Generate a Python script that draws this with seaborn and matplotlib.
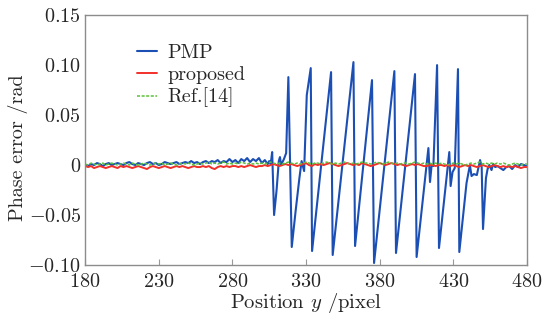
import numpy as np
import pandas as pd
import matplotlib
matplotlib.use('Agg')
import matplotlib.pyplot as plt
import seaborn as sns

# ---- data ----
# PMP: noise before the fringe region, then sawtooth vertices, then noise
pmp_x = [180, 182, 184, 186, 188, 190, 192, 194, 196, 198,
         200, 202, 204, 206, 208, 210, 212, 214, 216, 218,
         220, 222, 224, 226, 228, 230, 232, 234, 236, 238,
         240, 242, 244, 246, 248, 250, 252, 254, 256, 258,
         260, 262, 264, 266, 268, 270, 272, 274, 276, 278,
         280, 282, 284, 286, 288, 290, 292, 294, 296, 298,
         300, 302, 304,
         305, 306, 307, 308.3, 310, 311.5, 312.3, 313, 314, 315, 316.5, 318,
         320.3, 323, 325.5, 327, 328.7, 330.5, 333.2, 334.1, 347.0, 348.1,
         362.2, 363.3, 374.8, 376.2, 390.0, 391.1, 404.0, 405.1, 413.1, 414.2,
         415.3, 416.5, 419.0, 420.3, 427.3, 428.2, 429.5, 431.0, 433.2, 434.1,
         439.0, 440.7, 441.3, 442.4, 444.0, 446.0, 448.2, 449.3, 450.2, 452.2,
         453.3, 454.5, 456, 457, 458.5, 460, 462, 464, 466, 468,
         470, 472, 474, 476, 478, 480]
pmp_y = [0.000, -0.001, 0.001, 0.000, 0.002, 0.001, -0.001, 0.001, 0.002, 0.000,
         0.001, 0.002, 0.001, 0.000, 0.002, 0.003, 0.001, 0.000, 0.002, 0.001,
         0.000, 0.002, 0.003, 0.001, 0.002, 0.000, 0.001, 0.003, 0.002, 0.001,
         0.002, 0.003, 0.001, 0.002, 0.003, 0.002, 0.004, 0.002, 0.003, 0.001,
         0.003, 0.004, 0.002, 0.004, 0.003, 0.005, 0.002, 0.004, 0.003, 0.006,
         0.003, 0.005, 0.002, 0.006, 0.004, 0.007, 0.003, 0.006, 0.004, 0.007,
         0.002, 0.005, 0.001,
         0.004, 0.001, 0.013, -0.050, -0.025, 0.004, 0.008, 0.000, 0.003, 0.006, 0.012, 0.088,
         -0.082, -0.045, -0.013, 0.004, -0.006, 0.070, 0.097, -0.086, 0.093, -0.090,
         0.103, -0.081, 0.085, -0.098, 0.094, -0.088, 0.091, -0.092, 0.017, -0.017,
         0.000, -0.001, 0.100, -0.083, 0.013, -0.021, -0.007, -0.003, 0.096, -0.087,
         -0.018, -0.005, 0.000, -0.011, -0.009, -0.010, 0.005, -0.002, -0.064, -0.013,
         -0.004, 0.000, -0.005, 0.001, -0.002, -0.001, -0.003, -0.005, -0.002, -0.001,
         -0.004, 0.000, -0.002, 0.001, 0.000, -0.001]

noise_x = list(range(180, 481, 2))
proposed_y = [-0.001, -0.002, -0.001, -0.003, -0.002, -0.001, -0.002, -0.003, -0.002, -0.001,
              -0.002, -0.003, -0.001, -0.002, -0.001, -0.002, -0.003, -0.002, -0.001, -0.002,
              -0.003, -0.004, -0.002, -0.001, -0.002, -0.003, -0.002, -0.001, -0.002, -0.003,
              -0.002, -0.001, -0.002, -0.001, -0.002, -0.003, -0.002, -0.001, -0.002, -0.002,
              -0.001, -0.002, -0.001, -0.003, -0.004, -0.002, -0.001, -0.002, -0.001, -0.002,
              -0.001, -0.001, -0.002, -0.001, -0.002, -0.001, 0.000, -0.001, -0.002, -0.001,
              -0.001, 0.000, -0.001, 0.000, 0.001, 0.000, -0.001, 0.000, 0.001, 0.000,
              0.001, 0.000, -0.001, 0.000, 0.001, 0.002, 0.000, -0.001, 0.001, 0.000,
              0.001, 0.000, 0.001, 0.002, 0.001, 0.000, -0.001, 0.000, 0.001, 0.002,
              0.001, 0.000, 0.001, 0.000, 0.002, 0.001, 0.000, -0.001, 0.000, 0.001,
              0.002, 0.001, 0.000, 0.001, 0.002, 0.001, 0.000, 0.001, 0.000, -0.001,
              0.000, 0.001, 0.000, 0.001, 0.000, -0.001, -0.001, 0.000, 0.000, -0.001,
              0.000, 0.000, -0.001, 0.000, -0.001, 0.000, -0.001, -0.002, -0.001, 0.000,
              -0.001, 0.000, -0.001, -0.002, -0.001, 0.000, -0.001, -0.002, -0.001, 0.000,
              -0.001, -0.002, -0.001, -0.002, -0.001, -0.002, -0.001, -0.002, -0.003, -0.002,
              -0.002]
ref14_y = [0.001, 0.000, 0.002, 0.001, 0.000, 0.001, 0.002, 0.000, 0.001, 0.002,
           0.001, 0.000, 0.001, 0.002, 0.001, 0.000, 0.002, 0.001, 0.000, 0.001,
           0.002, 0.001, 0.000, 0.001, 0.002, 0.001, 0.002, 0.000, 0.001, 0.002,
           0.001, 0.000, 0.001, 0.002, 0.001, 0.002, 0.001, 0.000, 0.001, 0.002,
           0.001, 0.002, 0.003, 0.001, 0.002, 0.001, 0.002, 0.003, 0.001, 0.002,
           0.001, 0.002, 0.001, 0.003, 0.002, 0.001, 0.002, 0.001, 0.002, 0.001,
           0.002, 0.001, 0.002, 0.003, 0.002, 0.001, 0.002, 0.001, 0.002, 0.003,
           0.002, 0.001, 0.002, 0.001, 0.002, 0.003, 0.002, 0.001, 0.002, 0.002,
           0.001, 0.002, 0.003, 0.002, 0.001, 0.002, 0.001, 0.002, 0.003, 0.002,
           0.001, 0.002, 0.001, 0.002, 0.003, 0.002, 0.002, 0.001, 0.002, 0.003,
           0.002, 0.001, 0.002, 0.003, 0.002, 0.001, 0.002, 0.001, 0.002, 0.002,
           0.001, 0.002, 0.003, 0.002, 0.001, 0.002, 0.001, 0.002, 0.001, 0.002,
           0.001, 0.002, 0.001, 0.000, 0.001, 0.002, 0.001, 0.002, 0.001, 0.000,
           0.001, 0.002, 0.001, 0.002, 0.003, 0.001, 0.002, 0.001, 0.002, 0.001,
           0.002, 0.001, 0.002, 0.001, 0.000, 0.001, 0.002, 0.001, 0.000, 0.001,
           0.001]

x_ticks = [180, 230, 280, 330, 380, 430, 480]
y_ticks = [-0.10, -0.05, 0, 0.05, 0.10, 0.15]
y_tick_labels = ['$-0.10$', '$-0.05$', '$0$', '$0.05$', '$0.10$', '$0.15$']

# ---- style ----
sns.set_style('white')
plt.rcParams['font.family'] = ['cmr10', 'DejaVu Serif']
plt.rcParams['mathtext.fontset'] = 'cm'
plt.rcParams['axes.unicode_minus'] = False

fig = plt.figure(figsize=(5.46, 3.22), dpi=100)
ax = fig.add_axes([0.156, 0.177, 0.809, 0.776])

sns.lineplot(x=pmp_x, y=pmp_y, ax=ax, color='#1c4fb4', linewidth=1.5,
             estimator=None, sort=False, label='PMP')
sns.lineplot(x=noise_x, y=proposed_y, ax=ax, color='#f2302a', linewidth=1.4,
             estimator=None, label='proposed')
sns.lineplot(x=noise_x, y=ref14_y, ax=ax, color='#5cc13a', linewidth=1.1,
             linestyle=(0, (2, 1)), estimator=None, label='Ref.[14]')

ax.set_xlim(180, 480)
ax.set_ylim(-0.10, 0.15)
ax.set_xticks(x_ticks)
ax.set_xticklabels(['$%d$' % t for t in x_ticks])
ax.set_yticks(y_ticks)
ax.set_yticklabels(y_tick_labels)
ax.tick_params(axis='x', direction='in', length=4, color='#999999',
               labelsize=14.5, pad=6, bottom=True)
ax.tick_params(axis='y', length=0, labelsize=14.5, pad=3)
for s in ax.spines.values():
    s.set_color('#8c8c8c')
    s.set_linewidth(1.0)

ax.set_xlabel('Position $y$ /pixel', fontsize=14.8, labelpad=0)
ax.set_ylabel('Phase error /rad', fontsize=14.5, labelpad=3)
ax.yaxis.set_label_coords(-0.13, 0.47)

ax.legend(loc='upper left', bbox_to_anchor=(0.09, 0.935), frameon=False,
          fontsize=14.5, handlelength=1.0, handletextpad=0.5, labelspacing=0.2,
          borderaxespad=0.2)

fig.savefig('out.png', dpi=100)
